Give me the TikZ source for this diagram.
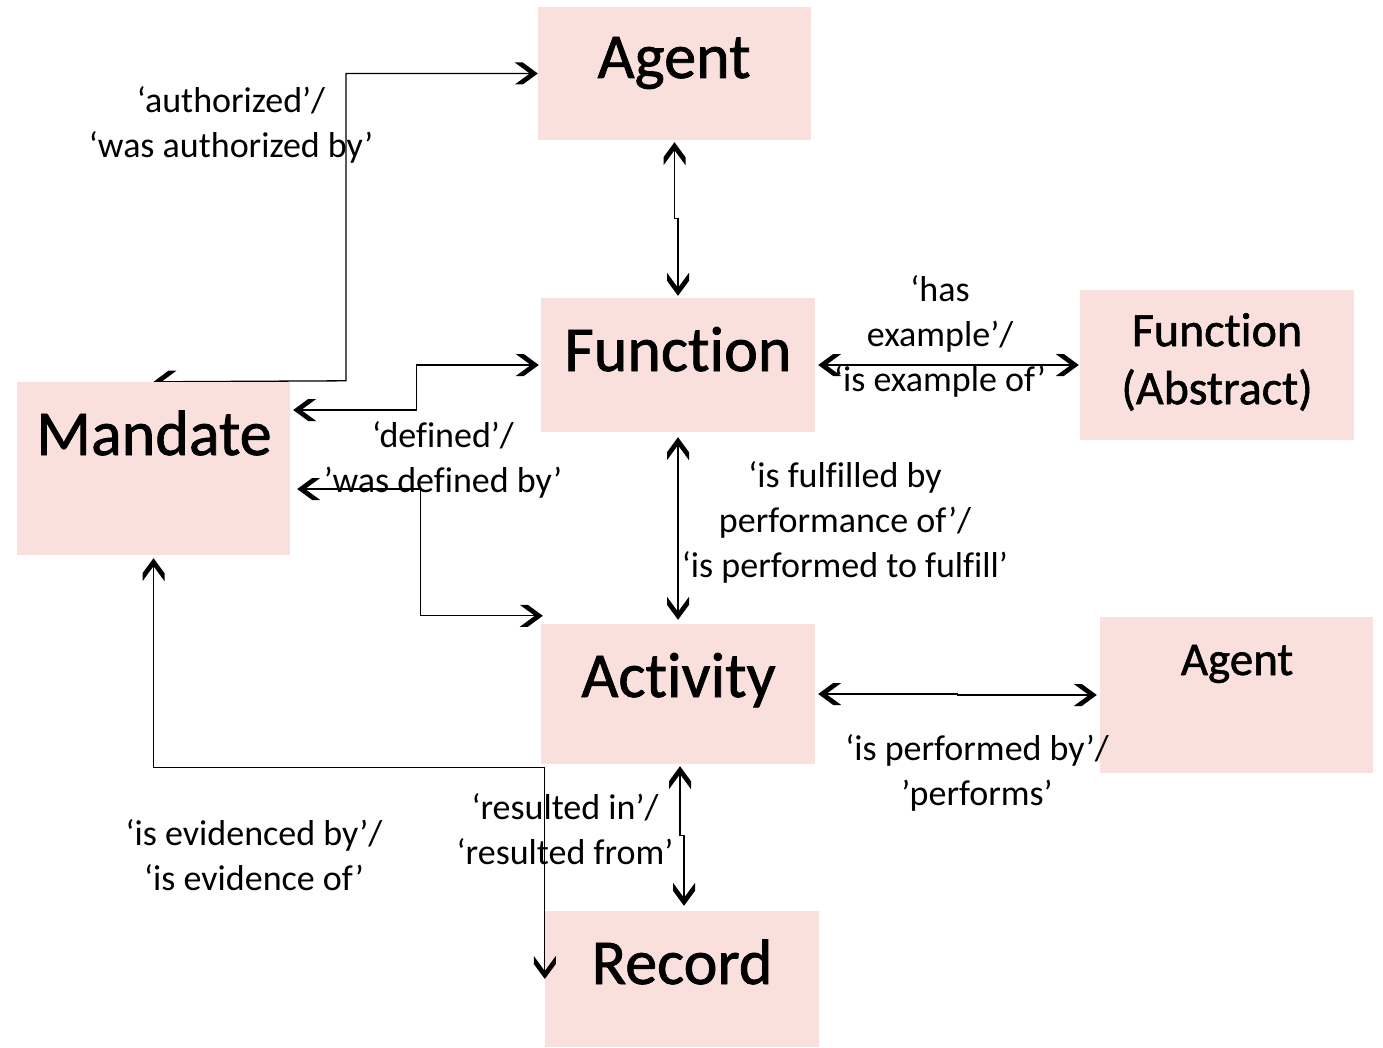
\documentclass[tikz,border=0pt]{standalone}
\usepackage{fontspec}
\setmainfont{Carlito}[Ligatures=NoCommon]
\newfontfamily\boxfont{Carlito}[FakeBold=1.2,Ligatures=NoCommon]
\usetikzlibrary{arrows.meta,backgrounds,calc}
\definecolor{boxpink}{HTML}{F9E0DC}
\pgfdeclarearrow{
  name = Chev,
  setup code = {
    \pgfarrowssettipend{0pt}
    \pgfarrowssetlineend{-4pt}
    \pgfarrowssetvisualbackend{-23pt}
    \pgfarrowssetbackend{-23pt}
  },
  drawing code = {
    \pgfpathmoveto{\pgfpoint{0pt}{0pt}}
    \pgfpathlineto{\pgfpoint{-15pt}{11pt}}
    \pgfpathlineto{\pgfpoint{-23pt}{11pt}}
    \pgfpathlineto{\pgfpoint{-8pt}{0pt}}
    \pgfpathlineto{\pgfpoint{-23pt}{-11pt}}
    \pgfpathlineto{\pgfpoint{-15pt}{-11pt}}
    \pgfpathclose
    \pgfusepathqfill
  },
}
\begin{document}
\begin{tikzpicture}[x=1pt,y=-1pt,
  box/.style={fill=boxpink,draw=none,inner sep=0,rectangle},
  big/.style={font=\boxfont\fontsize{64}{77}\selectfont,inner sep=0,anchor=base},
  mid/.style={font=\boxfont\fontsize{48}{58}\selectfont,inner sep=0,align=center},
  lbl/.style={font=\fontsize{36}{45}\selectfont,inner sep=0,align=center,anchor=north},
  conn/.style={line width=1.3pt,draw=black,arrows={Chev-Chev}}]
\useasboundingbox (0,0) rectangle (1383,1048);
% boxes
\node[box,minimum width=273pt,minimum height=133pt] (agentA) at (674.5,73.5) {};
\node[box,minimum width=274pt,minimum height=134pt] (func) at (678,365) {};
\node[box,minimum width=274pt,minimum height=150pt] (funcAbs) at (1217,365) {};
\node[box,minimum width=273pt,minimum height=173pt] (mandate) at (153.5,468.5) {};
\node[box,minimum width=274pt,minimum height=140pt] (activity) at (678,694) {};
\node[box,minimum width=273pt,minimum height=156pt] (agentB) at (1236.5,695) {};
\node[box,minimum width=274pt,minimum height=136pt] (record) at (682,979) {};
% box texts
\node[big] (tAgentA) at (674,78) {Agent};
\node[big] (tFunc) at (678,371) {Function};
\node[big] (tMandate) at (154,455) {Mandate};
\node[big] (tActivity) at (678.5,697) {Activity};
\node[big] (tRecord) at (682,984) {Record};
\node[mid,anchor=north] (tFuncAbs) at (1217,310) {\rule{0pt}{36pt}Function\\(Abstract)};
\node[font=\boxfont\fontsize{47}{56}\selectfont,inner sep=0,anchor=base] (tAgentB) at (1237,675) {Agent};
% connectors behind the boxes
\begin{pgfonlayer}{background}
\draw[conn] (mandate.north) -- ++(192.5,-1) |- (agentA.west);
\draw[conn] ($(agentA.south)+(0,2)$) -- ++(0,76) -| ($(func.north)+(0,-2)$);
\draw[conn] ($(mandate.east)+(3,-58.5)$) -- ++(123,0) |- ($(func.west)+(-2,0)$);
\draw[conn] ($(mandate.east)+(7,20.5)$) -- ++(123,0) |- ($(activity.north west)+(2,-8)$);
\draw[conn] ($(func.east)+(3,0)$) -- ($(funcAbs.west)+(-1,0)$);
\draw[conn] ($(func.south)+(0,5)$) -- ($(activity.north)+(0,-4)$);
\draw[conn] ($(activity.east)+(3,0)$) -- ++(139,0) |- ($(agentB.west)+(-3,0)$);
\draw[conn] ($(activity.south)+(2,2)$) -- ++(0,69) -| ($(record.north)+(2,-5)$);
\end{pgfonlayer}
% connector in front of the boxes
\draw[conn] ($(mandate.south)+(0,3)$) |- ($(record.north west)+(0,-143)$) -- (record.west);
% labels
\node[lbl] (l1) at (231,84) {\rule{0pt}{28pt}‘authorized’/\\‘was authorized by’};
\node[lbl] (l2) at (443,419) {\rule{0pt}{28pt}‘defined’/\\’was defined by’};
\node[lbl] (l3) at (940,273) {\rule{0pt}{28pt}‘has\\example’/\\‘is example of’};
\node[lbl] (l4) at (845,459) {\rule{0pt}{28pt}‘is fulfilled by\\performance of’/\\‘is performed to fulfill’};
\node[lbl] (l5) at (977,732) {\rule{0pt}{28pt}‘is performed by’/\\’performs’};
\node[lbl] (l6) at (565,791) {\rule{0pt}{28pt}‘resulted in’/\\‘resulted from’};
\node[lbl] (l7) at (254,817) {\rule{0pt}{28pt}‘is evidenced by’/\\‘is evidence of’};
\end{tikzpicture}
\end{document}
